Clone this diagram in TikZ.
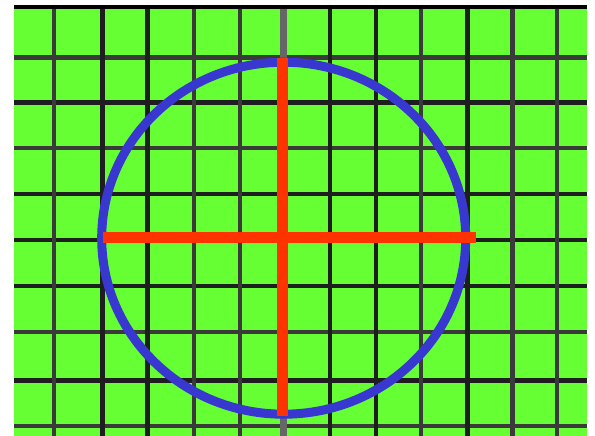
\documentclass[tikz,border=0pt]{standalone}
\definecolor{bggreen}{HTML}{66FF33}
\definecolor{gridblack}{HTML}{1E1E1E}
\definecolor{griddark}{HTML}{3A3A3A}
\definecolor{gridmid}{HTML}{666666}
\definecolor{ringblue}{HTML}{3838D0}
\definecolor{crossred}{HTML}{FF3300}
\tikzset{
  gridb/.style={draw=gridblack, line width=4.5pt},
  gridg/.style={draw=griddark, line width=4.5pt},
  axisline/.style={draw=gridmid, line width=6.5pt},
  ring/.style={draw=ringblue, line width=9pt},
  crossbar/.style={draw=crossred, line width=11pt}
}
\begin{document}
\begin{tikzpicture}[x=1pt,y=-1pt]
\useasboundingbox (0,0) rectangle (595,436);
% background
\fill[bggreen] (14,5) rectangle (587,436);
% horizontal grid lines
\foreach \yy/\st in {57.5/gridg, 102.5/gridb, 148/gridg, 194/gridb, 286/gridb, 332/gridg, 380.5/gridb, 426/gridg}
  \draw[\st] (14,\yy) -- (587,\yy);
\draw[gridb] (14,240) -- (587,240);
% vertical grid lines
\foreach \xx/\st in {54/gridg, 102.5/gridb, 147.5/gridb, 194/gridg, 240/gridg, 330/gridb, 376/gridb, 421/gridg, 467.5/gridb, 512.5/gridg, 557/gridg}
  \draw[\st] (\xx,5) -- (\xx,436);
% central gray axis
\draw[axisline] (283.5,8) -- (283.5,436);
% top border
\draw[draw=black, line width=4pt] (14,7) -- (587,7);
% ring
\draw[ring] (283.7,238.2) ellipse [x radius=182, y radius=176];
% cross
\coordinate (vt) at (282,58);
\coordinate (vb) at (282,416);
\coordinate (hl) at (103,237.5);
\coordinate (hr) at (476,237.5);
\draw[crossbar] (vt) -- (vb);
\draw[crossbar] (hl) -- (hr);
\end{tikzpicture}
\end{document}
